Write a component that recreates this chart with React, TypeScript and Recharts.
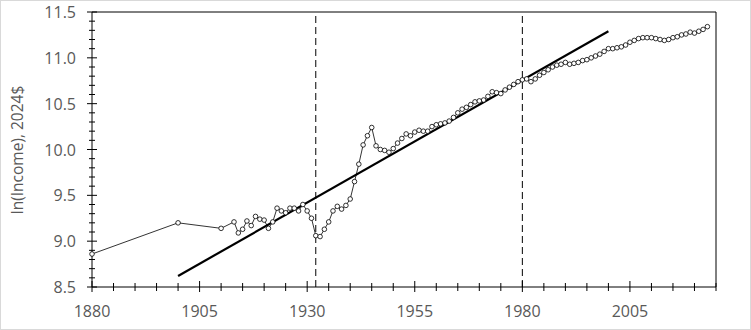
import React from "react";
import {
  LineChart,
  Line,
  XAxis,
  YAxis,
  ReferenceLine,
  ReferenceArea,
} from "recharts";

// observed years and ln(income)
const years = [
  1880, 1900, 1910,
  1913, 1914, 1915, 1916, 1917, 1918, 1919,
  1920, 1921, 1922, 1923, 1924, 1925, 1926, 1927, 1928, 1929,
  1930, 1931, 1932, 1933, 1934, 1935, 1936, 1937, 1938, 1939,
  1940, 1941, 1942, 1943, 1944, 1945, 1946, 1947, 1948, 1949,
  1950, 1951, 1952, 1953, 1954, 1955, 1956, 1957, 1958, 1959,
  1960, 1961, 1962, 1963, 1964, 1965, 1966, 1967, 1968, 1969,
  1970, 1971, 1972, 1973, 1974, 1975, 1976, 1977, 1978, 1979,
  1980, 1981, 1982, 1983, 1984, 1985, 1986, 1987, 1988, 1989,
  1990, 1991, 1992, 1993, 1994, 1995, 1996, 1997, 1998, 1999,
  2000, 2001, 2002, 2003, 2004, 2005, 2006, 2007, 2008, 2009,
  2010, 2011, 2012, 2013, 2014, 2015, 2016, 2017, 2018, 2019,
  2020, 2021, 2022, 2023,
];

const income = [
  8.86, 9.2, 9.14,
  9.21, 9.09, 9.13, 9.22, 9.17, 9.27, 9.24,
  9.23, 9.14, 9.21, 9.36, 9.33, 9.31, 9.36, 9.36, 9.33, 9.4,
  9.33, 9.25, 9.06, 9.05, 9.13, 9.21, 9.33, 9.38, 9.35, 9.39,
  9.46, 9.65, 9.84, 10.05, 10.15, 10.24, 10.04, 10.0, 9.99, 9.97,
  10.01, 10.07, 10.12, 10.17, 10.15, 10.19, 10.21, 10.2, 10.2, 10.25,
  10.27, 10.28, 10.29, 10.31, 10.35, 10.4, 10.44, 10.46, 10.49, 10.52,
  10.53, 10.54, 10.58, 10.63, 10.62, 10.61, 10.65, 10.68, 10.71, 10.74,
  10.76, 10.77, 10.74, 10.77, 10.81, 10.84, 10.87, 10.9, 10.92, 10.93,
  10.95, 10.93, 10.94, 10.95, 10.97, 10.98, 11.0, 11.02, 11.04, 11.07,
  11.1, 11.1, 11.11, 11.12, 11.14, 11.17, 11.19, 11.21, 11.22, 11.22,
  11.22, 11.21, 11.2, 11.19, 11.2, 11.22, 11.23, 11.25, 11.26, 11.28,
  11.27, 11.29, 11.31, 11.34,
];

// fitted trend line end points
const trendYears = [1900, 2000];
const trendValues = [8.62, 11.29];

const dashedYears = [1932, 1980];

const xLabels = [1880, 1905, 1930, 1955, 1980, 2005];
const yLabels = ["8.5", "9.0", "9.5", "10.0", "10.5", "11.0", "11.5"];

const xTicks = Array.from({ length: 30 }, (_, i) => 1880 + i * 5);
const yTicks = Array.from({ length: 31 }, (_, i) => Math.round((8.5 + i * 0.1) * 10) / 10);

const data = years.map((year, i) => ({ year, value: income[i] }));
const trend = trendYears.map((year, i) => ({ year, trend: trendValues[i] }));

const FONT = "'Open Sans', 'Liberation Sans', sans-serif";
const GREY = "#595959";

const XTick = (props: any) => {
  const { x, y, payload } = props;
  const major = xLabels.includes(payload.value);
  return (
    <g>
      <line
        x1={x}
        x2={x}
        y1={y - (major ? 6 : 4)}
        y2={y + (major ? 5 : 4)}
        stroke="#000"
        strokeWidth={1}
      />
      {major && (
        <text
          x={x}
          y={y + 30}
          textAnchor="middle"
          fontSize={16}
          fontFamily={FONT}
          fill={GREY}
        >
          {payload.value}
        </text>
      )}
    </g>
  );
};

const YTick = (props: any) => {
  const { x, y, payload } = props;
  const label = Number(payload.value).toFixed(1);
  const major = yLabels.includes(label);
  return (
    <g>
      <line
        x1={x - (major ? 5 : 3)}
        x2={x + (major ? 5 : 3)}
        y1={y}
        y2={y}
        stroke="#000"
        strokeWidth={1}
      />
      {major && (
        <text
          x={x - 16}
          y={y + 6}
          textAnchor="end"
          fontSize={16}
          fontFamily={FONT}
          fill={GREY}
        >
          {label}
        </text>
      )}
    </g>
  );
};

export default function App() {
  return (
    <div
      style={{
        position: "absolute",
        left: 0,
        top: 0,
        width: 751,
        height: 330,
        background: "#fff",
      }}
    >
      <LineChart
        width={751}
        height={330}
        margin={{ top: 12, right: 35, bottom: 0, left: 0 }}
      >
        <XAxis
          dataKey="year"
          type="number"
          domain={[1880, 2025]}
          ticks={xTicks}
          interval={0}
          allowDuplicatedCategory={false}
          axisLine={false}
          tickLine={false}
          tickSize={0}
          tickMargin={0}
          height={43}
          tick={<XTick />}
        />
        <YAxis
          type="number"
          domain={[8.5, 11.5]}
          ticks={yTicks}
          interval={0}
          axisLine={false}
          tickLine={false}
          tickSize={0}
          tickMargin={0}
          width={92}
          tick={<YTick />}
        />
        <ReferenceArea
          x1={1880}
          x2={2025}
          y1={8.5}
          y2={11.5}
          fill="none"
          stroke="#000"
          strokeWidth={1}
        />
        {dashedYears.map((yr) => (
          <ReferenceLine
            key={yr}
            x={yr}
            stroke="#000"
            strokeWidth={1}
            strokeDasharray="7 4"
          />
        ))}
        <Line
          data={trend}
          dataKey="trend"
          stroke="#000"
          strokeWidth={2.2}
          dot={false}
          isAnimationActive={false}
        />
        <Line
          data={data}
          dataKey="value"
          stroke="#000"
          strokeWidth={0.8}
          dot={{ r: 2.3, stroke: "#000", strokeWidth: 0.8, fill: "#fff" }}
          isAnimationActive={false}
        />
      </LineChart>
      <div
        style={{
          position: "absolute",
          left: 17,
          top: 150,
          transform: "translate(-50%, -50%) rotate(-90deg)",
          whiteSpace: "nowrap",
          fontFamily: FONT,
          fontSize: 15.5,
          color: GREY,
        }}
      >
        ln(Income), 2024$
      </div>
      <div
        style={{
          position: "absolute",
          left: 0,
          top: 0,
          width: 751,
          height: 330,
          boxSizing: "border-box",
          border: "1px solid #d9d9d9",
          pointerEvents: "none",
        }}
      />
    </div>
  );
}
